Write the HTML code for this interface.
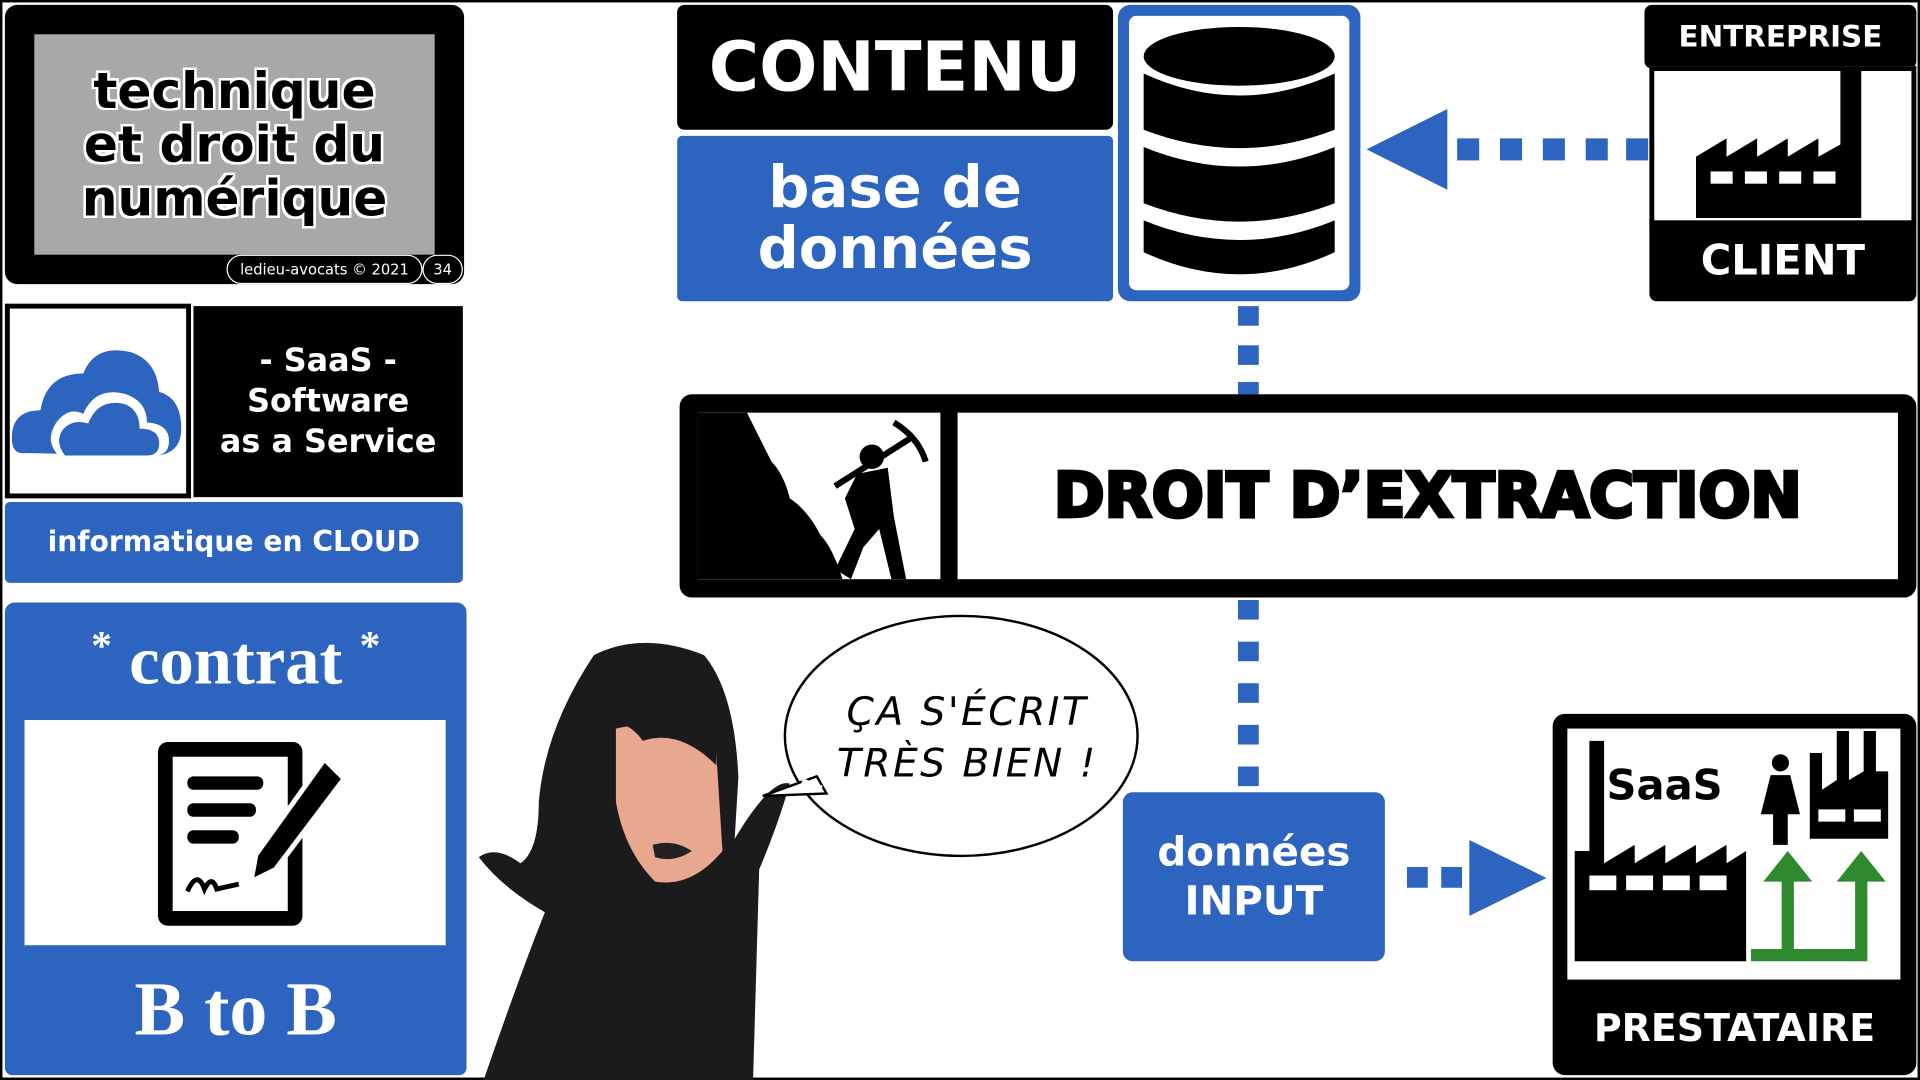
<!DOCTYPE html>
<html><head><meta charset="utf-8"><style>
html,body{margin:0;padding:0;width:1920px;height:1080px;overflow:hidden;background:#fff}
#s{position:absolute;left:0;top:0;width:1568px;height:882px;transform:scale(1.22449,1.22449);transform-origin:0 0;font-family:"DejaVu Sans","Liberation Sans",sans-serif}
.a{position:absolute;box-sizing:border-box}
.blue{background:#2c64c0;color:#fff}
.blk{background:#000;color:#fff}
.c{display:flex;align-items:center;justify-content:center;text-align:center;font-weight:bold}
.ol{color:#000;text-shadow:2px 0 #fff,-2px 0 #fff,0 2px #fff,0 -2px #fff,2px 2px #fff,-2px -2px #fff,2px -2px #fff,-2px 2px #fff}
</style></head><body><div id="s">
<div class="a" style="left:0;top:0;width:1568px;height:882px;border:2px solid #000"></div>

<div class="a blk" style="left:4px;top:4px;width:375px;height:228px;border-radius:10px"></div>
<div class="a c ol" style="left:28px;top:28px;width:327px;height:180px;background:#a8a8a8;font-size:41px;line-height:44px">technique<br>et droit du<br>numérique</div>
<div class="a" style="left:185px;top:208px;width:160px;height:24px;border:1px solid #fff;border-radius:12px;color:#fff;font-size:12px;text-align:center;line-height:22px;background:#000">ledieu-avocats © 2021</div>
<div class="a" style="left:345px;top:208px;width:33px;height:24px;border:1px solid #fff;border-radius:12px;color:#fff;font-size:12px;text-align:center;line-height:22px;background:#000">34</div>

<div class="a" style="left:4px;top:248px;width:152px;height:159px;border:4px solid #000;background:#fff"></div>
<svg class="a" style="left:8px;top:280px" width="142" height="100" viewBox="0 0 142 100"><path d="M10 90 Q0 90 2 72 Q5 55 25 55 Q30 25 60 25 Q70 0 100 8 Q120 15 122 40 Q140 45 140 70 Q140 90 120 92 Z" fill="#2c64c0"/><path d="M40 92 Q28 80 38 65 Q48 52 60 58 Q70 35 95 42 Q112 48 112 65 Q130 66 130 80 Q130 92 118 92 Z" fill="#fff"/><path d="M45 92 Q36 80 44 70 Q52 62 64 66 Q72 45 94 50 Q106 55 106 70 Q122 70 122 82 Q122 92 112 92 Z" fill="#2c64c0"/></svg>
<div class="a blk c" style="left:158px;top:250px;width:220px;height:156px;font-size:26px;line-height:33px">- SaaS -<br>Software<br>as a Service</div>
<div class="a blue c" style="left:4px;top:410px;width:374px;height:66px;border-radius:4px;font-size:23px">informatique en CLOUD</div>

<div class="a blue c" style="left:4px;top:492px;width:377px;height:96px;border-radius:8px 8px 0 0;font-family:'Liberation Serif',serif;font-size:56px;font-weight:bold"><span style="font-size:34px;position:relative;top:-12px">*</span>&nbsp;contrat&nbsp;<span style="font-size:34px;position:relative;top:-12px">*</span></div>
<div class="a" style="left:4px;top:588px;width:16px;height:186px;background:#2c64c0"></div>
<div class="a" style="left:364px;top:588px;width:17px;height:186px;background:#2c64c0"></div>
<svg class="a" style="left:125px;top:600px" width="160" height="160" viewBox="0 0 160 160">
<rect x="4" y="6" width="118" height="150" rx="8" fill="#000"/><rect x="16" y="18" width="94" height="126" fill="#fff"/>
<rect x="28" y="34" width="62" height="11" rx="5"/><rect x="28" y="56" width="56" height="11" rx="5"/><rect x="28" y="78" width="42" height="11" rx="5"/>
<path d="M140 20 L156 36 L100 110 L80 120 L84 98 Z" fill="#000" stroke="#fff" stroke-width="4"/>
<path d="M28 128 Q36 110 42 126 Q48 114 52 126 L70 122" stroke="#000" stroke-width="4" fill="none"/></svg>
<div class="a blue c" style="left:4px;top:772px;width:377px;height:106px;border-radius:0 0 6px 6px;font-family:'Liberation Serif',serif;font-size:62px;font-weight:bold">B to B</div>

<div class="a blk c" style="left:553px;top:4px;width:356px;height:102px;border-radius:6px;font-size:56px">CONTENU</div>
<div class="a blue c" style="left:553px;top:111px;width:356px;height:135px;border-radius:4px;font-size:47px;line-height:50px">base de<br>données</div>
<div class="a" style="left:913px;top:4px;width:198px;height:242px;background:#2c64c0;border-radius:10px"></div>
<div class="a" style="left:922px;top:13px;width:180px;height:224px;background:#fff;border-radius:6px"></div>
<svg class="a" style="left:930px;top:16px" width="164" height="220" viewBox="0 0 164 220">
<ellipse cx="82" cy="30" rx="78" ry="24"/>
<path d="M4 44 Q82 80 160 44 L160 90 Q82 120 4 90 Z"/>
<path d="M4 104 Q82 136 160 104 L160 150 Q82 180 4 150 Z"/>
<path d="M4 164 Q82 196 160 164 L160 190 Q82 226 4 190 Z"/></svg>

<div class="a blk c" style="left:1343px;top:4px;width:222px;height:52px;border-radius:6px;font-size:24px">ENTREPRISE</div>
<div class="a" style="left:1347px;top:54px;width:218px;height:130px;border:4px solid #000;background:#fff"></div>
<svg class="a" style="left:1385px;top:58px" width="140" height="120" viewBox="0 0 140 120"><path d="M0 120 L0 70 L25 55 L25 70 L50 55 L50 70 L75 55 L75 70 L100 55 L100 70 L118 60 L118 0 L135 0 L135 120 Z"/><rect x="12" y="82" width="18" height="10" fill="#fff"/><rect x="40" y="82" width="18" height="10" fill="#fff"/><rect x="68" y="82" width="18" height="10" fill="#fff"/><rect x="96" y="82" width="18" height="10" fill="#fff"/></svg>
<div class="a blk c" style="left:1347px;top:180px;width:218px;height:66px;border-radius:0 0 6px 6px;font-size:34px">CLIENT</div>

<svg class="a" style="left:1110px;top:85px" width="240" height="75"><polygon points="6,37 72,4 72,70" fill="#2c64c0"/><g fill="#2c64c0"><rect x="80" y="28" width="18" height="18"/><rect x="115" y="28" width="18" height="18"/><rect x="150" y="28" width="18" height="18"/><rect x="185" y="28" width="18" height="18"/><rect x="218" y="28" width="18" height="18"/></g></svg>

<svg class="a" style="left:1008px;top:246px" width="24" height="400"><g fill="#2c64c0"><rect x="3" y="4" width="17" height="16"/><rect x="3" y="36" width="17" height="16"/><rect x="3" y="66" width="17" height="10"/><rect x="3" y="244" width="17" height="16"/><rect x="3" y="278" width="17" height="16"/><rect x="3" y="312" width="17" height="16"/><rect x="3" y="346" width="17" height="16"/><rect x="3" y="380" width="17" height="16"/></g></svg>

<div class="a" style="left:555px;top:322px;width:1010px;height:166px;background:#000;border-radius:10px"></div>
<div class="a" style="left:570px;top:337px;width:198px;height:136px;background:#fff"></div>
<svg class="a" style="left:570px;top:337px" width="198" height="136" viewBox="0 0 198 136"><path d="M0 0 L40 0 Q50 20 60 40 Q70 50 75 70 Q90 80 100 100 Q110 110 118 136 L0 136 Z"/><circle cx="142" cy="36" r="10"/><path d="M130 50 L155 45 L160 85 L170 136 L158 136 L148 95 L135 110 L125 136 L112 128 L128 95 L120 70 Z"/><path d="M112 60 L175 20" stroke="#000" stroke-width="5"/><path d="M160 8 Q180 20 186 40" stroke="#000" stroke-width="5" fill="none"/></svg>
<div class="a" style="left:782px;top:337px;width:768px;height:136px;background:#fff"></div>
<div class="a c" style="left:782px;top:337px;width:768px;height:136px;font-size:50px;color:#000;-webkit-text-stroke:3px #000;font-family:'DejaVu Sans',sans-serif">DROIT D’EXTRACTION</div>

<svg class="a" style="left:385px;top:515px" width="280" height="367" viewBox="0 0 280 367">
<path d="M100 20 Q140 0 190 20 Q215 50 218 120 L215 170 Q245 120 260 125 Q250 160 235 195 L230 367 L10 367 Q40 280 60 230 Q25 210 6 185 Q20 175 40 190 Q55 180 55 140 Q60 80 100 20 Z" fill="#1b1b1b"/>
<path d="M118 80 Q160 70 200 100 L205 180 Q180 210 150 205 Q125 180 118 140 Z" fill="#e8a890"/>
<path d="M112 50 Q150 30 200 80 L200 110 Q170 80 140 90 Q125 70 112 80 Z" fill="#1b1b1b"/>
<path d="M148 175 Q165 170 180 180 Q165 190 150 185 Z" fill="#222"/></svg>

<svg class="a" style="left:615px;top:498px" width="325" height="210"><ellipse cx="170" cy="103" rx="144" ry="98" fill="#fff" stroke="#000" stroke-width="2"/><path d="M8 152 L52 136 L60 150 Z" fill="#fff" stroke="#000" stroke-width="2"/><path d="M40 140 L56 146" stroke="#fff" stroke-width="5"/></svg>
<div class="a" style="left:660px;top:560px;width:260px;text-align:center;font-size:32px;line-height:42px;font-style:italic;font-family:'DejaVu Sans',sans-serif;letter-spacing:2px">ÇA S'ÉCRIT<br>TRÈS BIEN !</div>

<div class="a blue c" style="left:917px;top:647px;width:214px;height:138px;border-radius:8px;font-size:33px;line-height:40px">données<br>INPUT</div>
<svg class="a" style="left:1145px;top:684px" width="125" height="66"><g fill="#2c64c0"><rect x="4" y="24" width="17" height="17"/><rect x="32" y="24" width="17" height="17"/><rect x="55" y="24" width="8" height="17"/><polygon points="55,2 118,33 55,64"/></g></svg>

<div class="a" style="left:1268px;top:583px;width:297px;height:295px;background:#000;border-radius:10px"></div>
<div class="a" style="left:1280px;top:595px;width:272px;height:205px;background:#fff"></div>
<svg class="a" style="left:1280px;top:595px" width="272" height="205" viewBox="0 0 272 205">
<path d="M6 190 L6 100 L18 100 L18 10 L30 10 L30 110 L55 95 L55 110 L80 95 L80 110 L105 95 L105 110 L130 95 L130 110 L146 100 L146 190 Z"/>
<rect x="18" y="120" width="22" height="12" fill="#fff"/><rect x="48" y="120" width="22" height="12" fill="#fff"/><rect x="78" y="120" width="22" height="12" fill="#fff"/><rect x="108" y="120" width="22" height="12" fill="#fff"/>
<text x="32" y="58" font-family="DejaVu Sans" font-weight="bold" font-size="34">SaaS</text>
<circle cx="174" cy="28" r="7"/><path d="M166 38 L182 38 L190 70 L180 70 L180 95 L168 95 L168 70 L158 70 Z"/>
<path d="M198 80 L198 20 L208 20 L208 50 L220 42 L220 2 L230 2 L230 42 L242 35 L242 2 L252 2 L252 35 L262 35 L262 90 L198 90 Z"/>
<rect x="205" y="66" width="22" height="10" fill="#fff"/><rect x="234" y="66" width="22" height="10" fill="#fff"/>
<g fill="none" stroke="#2f8a2f" stroke-width="10"><path d="M150 185 L240 185 L240 118"/><path d="M180 185 L180 118"/></g>
<polygon points="160,125 180,100 200,125" fill="#2f8a2f"/><polygon points="220,125 240,100 260,125" fill="#2f8a2f"/></svg>
<div class="a c" style="left:1268px;top:805px;width:297px;height:70px;color:#fff;font-size:31px">PRESTATAIRE</div>
</div></body></html>
